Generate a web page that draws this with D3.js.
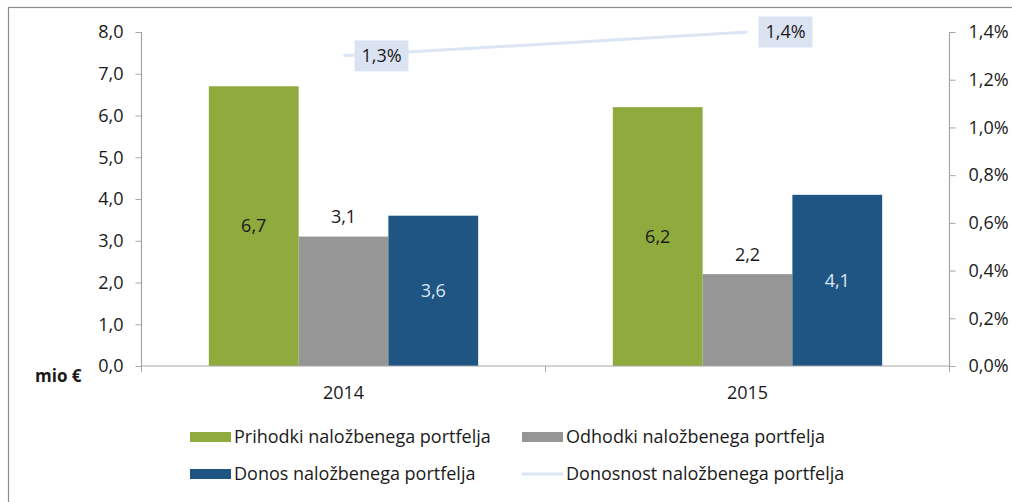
<!DOCTYPE html>
<html>
<head>
<meta charset="utf-8">
<script src="https://cdn.jsdelivr.net/npm/d3@7"></script>
<style>
  html, body { margin: 0; padding: 0; background: #fff; }
  svg { display: block; }
  text { font-family: "Open Sans", Lato, sans-serif; fill: #1a1a1a; }
</style>
</head>
<body>
<svg id="chart" width="1012" height="502"></svg>
<script>
// Portfolio data (mio €) and portfolio yield (%)
const years = ["2014", "2015"];
const seriesNames = ["Prihodki naložbenega portfelja", "Odhodki naložbenega portfelja", "Donos naložbenega portfelja"];
const prihodki = [6.7, 6.2];
const odhodki = [3.1, 2.2];
const donos = [3.6, 4.1];
const lineName = "Donosnost naložbenega portfelja";
const donosnost = [1.3, 1.4];
const leftTicks = [0, 1, 2, 3, 4, 5, 6, 7, 8];
const rightTicks = [0, 0.2, 0.4, 0.6, 0.8, 1.0, 1.2, 1.4];

const colors = ["#8faa3d", "#969696", "#1f5582"];
const lineColor = "#dce5f3";
const labelBox = "#dbe3f3";
const FS = 18;

const svg = d3.select("#chart");
const fmt1 = v => d3.format(".1f")(v).replace(".", ",");

// frame
svg.append("rect").attr("x", 8.5).attr("y", 7.5).attr("width", 1020).attr("height", 520)
  .attr("fill", "none").attr("stroke", "#8c8c8c").attr("stroke-width", 1.2);

const plotL = 141.5, plotR = 949.5, plotT = 32, plotB = 366;

const x0 = d3.scaleBand().domain(years).range([plotL, plotR]);
const x1 = d3.scaleBand().domain(seriesNames).range([0, x0.bandwidth()]).paddingOuter(0.75).paddingInner(0);
const y = d3.scaleLinear().domain([0, 8]).range([plotB, plotT]);
const y2 = d3.scaleLinear().domain([0, 1.4]).range([plotB, plotT]);

const valuesBySeries = [prihodki, odhodki, donos];

// bars
const groups = svg.append("g").selectAll("g").data(years).join("g")
  .attr("transform", d => `translate(${x0(d)},0)`);
groups.each(function(yr, i) {
  const g = d3.select(this);
  seriesNames.forEach((s, k) => {
    const v = valuesBySeries[k][i];
    g.append("rect")
      .attr("x", x1(s)).attr("width", x1.bandwidth())
      .attr("y", y(v)).attr("height", y(0) - y(v))
      .attr("fill", colors[k]);
  });
});

// value labels: expenses sit above their bar, the others centred inside
groups.each(function(yr, i) {
  const g = d3.select(this);
  seriesNames.forEach((s, k) => {
    const v = valuesBySeries[k][i];
    const cx = x1(s) + x1.bandwidth() / 2;
    let ty, col;
    if (k === 1) { ty = y(v) - 19.5; col = "#1a1a1a"; }
    else { ty = (y(v) + y(0)) / 2; col = k === 2 ? "#dce6f2" : "#1a1a1a"; }
    g.append("text").attr("x", cx).attr("y", ty).attr("dy", "0.35em")
      .attr("text-anchor", "middle").attr("font-size", FS)
      .style("fill", col).text(fmt1(v));
  });
});

// axes
const axisColor = "#a6a6a6";
const gl = svg.append("g").attr("transform", `translate(${plotL},0)`)
  .call(d3.axisLeft(y).tickValues(leftTicks).tickSize(6).tickPadding(12).tickFormat(fmt1));
const gr = svg.append("g").attr("transform", `translate(${plotR},0)`)
  .call(d3.axisRight(y2).tickValues(rightTicks).tickSize(6).tickPadding(13)
    .tickFormat(v => fmt1(v) + "%"));
const gb = svg.append("g").attr("transform", `translate(0,${plotB})`)
  .call(d3.axisBottom(x0).tickSize(0).tickPadding(20));
// category separator ticks
svg.append("g").selectAll("line").data([plotL, x0("2015"), plotR]).join("line")
  .attr("x1", d => d).attr("x2", d => d).attr("y1", plotB).attr("y2", plotB + 6)
  .attr("stroke", axisColor);

[gl, gr, gb].forEach(g => {
  g.select(".domain").attr("stroke", axisColor).attr("stroke-width", 1.2);
  g.selectAll(".tick line").attr("stroke", axisColor);
  g.selectAll("text").attr("font-size", FS).style("font-family", "'Open Sans', sans-serif").style("fill", "#1a1a1a");
});
gl.select(".domain").attr("d", `M0,${plotT}V${plotB}`);
gr.select(".domain").attr("d", `M0,${plotT}V${plotB}`);
gb.select(".domain").attr("d", `M${plotL},0H${plotR}`);

// unit label
svg.append("text").attr("x", 35).attr("y", 382).attr("font-size", 17).attr("font-weight", "bold")
  .text("mio €");

// yield line
const lx = d => x0(d) + x0.bandwidth() / 2;
const line = d3.line().x((d, i) => lx(years[i])).y(d => y2(d));
svg.append("path").datum(donosnost).attr("d", line)
  .attr("fill", "none").attr("stroke", lineColor).attr("stroke-width", 3);

donosnost.forEach((v, i) => {
  const px = lx(years[i]) + 11, py = y2(v);
  const g = svg.append("g");
  const w = 54, h = 31;
  g.append("rect").attr("x", px).attr("y", py - h / 2).attr("width", w).attr("height", h)
    .attr("fill", labelBox);
  g.append("text").attr("x", px + w / 2).attr("y", py).attr("dy", "0.35em")
    .attr("text-anchor", "middle").attr("font-size", FS).text(fmt1(v) + "%");
});

// legend
const legendItems = [
  { name: seriesNames[0], type: "bar", color: colors[0], x: 190, y: 437 },
  { name: seriesNames[1], type: "bar", color: colors[1], x: 522, y: 437 },
  { name: seriesNames[2], type: "bar", color: colors[2], x: 190, y: 474 },
  { name: lineName, type: "line", color: lineColor, x: 522, y: 474 }
];
const lg = svg.append("g").selectAll("g").data(legendItems).join("g")
  .attr("transform", d => `translate(${d.x},${d.y})`);
lg.filter(d => d.type === "bar").append("rect")
  .attr("x", 0).attr("y", -5).attr("width", 41).attr("height", 10).attr("fill", d => d.color);
lg.filter(d => d.type === "line").append("line")
  .attr("x1", 0).attr("x2", 41).attr("y1", 0).attr("y2", 0)
  .attr("stroke", d => d.color).attr("stroke-width", 3);
lg.append("text").attr("x", 44).attr("dy", "0.35em").attr("font-size", FS).text(d => d.name);
</script>
</body>
</html>
